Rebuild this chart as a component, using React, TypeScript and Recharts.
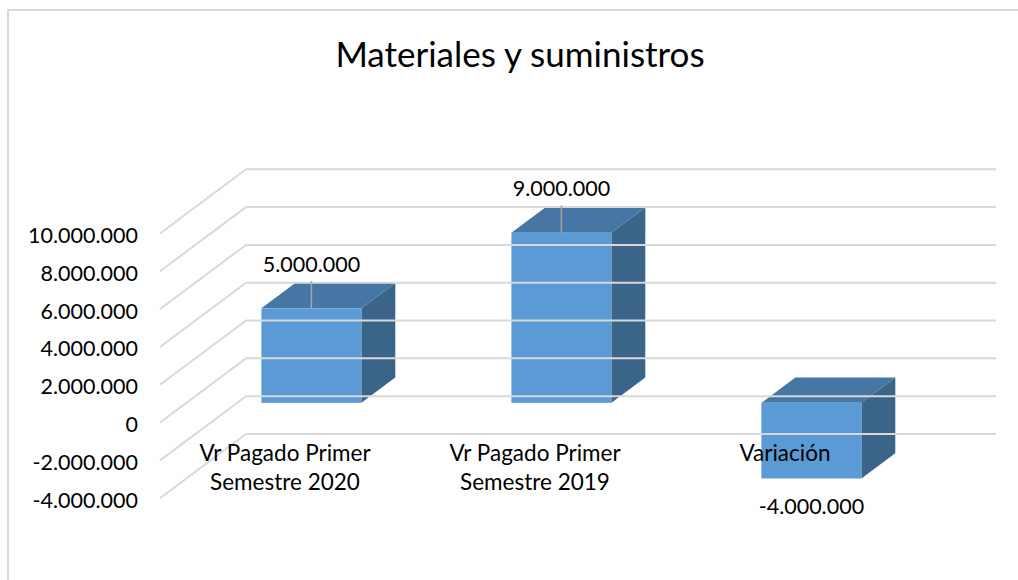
import React from 'react';
import { BarChart, Bar, XAxis, YAxis, LabelList } from 'recharts';

// ---- data ----
const title = 'Materiales y suministros';
const categories = ['Vr Pagado Primer Semestre 2020', 'Vr Pagado Primer Semestre 2019', 'Variación'];
const categoryLines: string[][] = [
  ['Vr Pagado Primer', 'Semestre 2020'],
  ['Vr Pagado Primer', 'Semestre 2019'],
  ['Variación'],
];
const values = [5000000, 9000000, -4000000];
const yTicks = [-4000000, -2000000, 0, 2000000, 4000000, 6000000, 8000000, 10000000];
const yDomain = [-4000000, 10000000];

const data = categories.map((c, i) => ({ name: c, value: values[i] }));

// ---- layout / style ----
const W = 1018;
const H = 580;
const FONT = 'Lato, "Open Sans", sans-serif';
const FRONT_LEFT = 160;
const FRONT_RIGHT = 910;
const PLOT_TOP = 233.5;
const PLOT_BOTTOM = 498.2;
const DX = 86; // depth offset of back wall
const DY = -64.2;
const D0 = 0.307; // bar front depth fraction
const D1 = 0.701; // bar back depth fraction
const GRID = '#d9d9d9';
const FRONT = '#5B9BD5';
const TOPC = '#4676A3';
const SIDE = '#3B6489';

const fmt = (v: number) =>
  (v < 0 ? '-' : '') + Math.abs(v).toString().replace(/\B(?=(\d{3})+(?!\d))/g, '.');

const YTick = (props: any) => {
  const y = props.payload.coordinate ?? props.y;
  const bx = FRONT_LEFT + DX;
  const by = y + DY;
  return (
    <g>
      <line x1={FRONT_LEFT} y1={y} x2={bx} y2={by} stroke={GRID} strokeWidth={2} />
      <line x1={bx} y1={by} x2={FRONT_RIGHT + DX} y2={by} stroke={GRID} strokeWidth={2} />
      <text x={138} y={y + 9.5} textAnchor="end" fontFamily={FONT} fontSize={21.5} fill="#000">
        {fmt(props.payload.value)}
      </text>
    </g>
  );
};

const XTick = (props: any) => {
  const idx = categories.indexOf(props.payload.value);
  const lines = categoryLines[idx] || [String(props.payload.value)];
  const x = props.payload.coordinate ?? props.x;
  return (
    <g>
      {lines.map((t, i) => (
        <text key={i} x={x} y={461 + i * 29} textAnchor="middle" fontFamily={FONT} fontSize={22.5} fill="#000">
          {t}
        </text>
      ))}
    </g>
  );
};

const Box3D = (props: any) => {
  const { x, y, width, height } = props;
  if (x == null || y == null) return null;
  const top = Math.min(y, y + height);
  const h = Math.abs(height);
  const fx = x + D0 * DX;
  const fy = top + D0 * DY;
  const bx = (D1 - D0) * DX;
  const by = (D1 - D0) * DY;
  const topPts = `${fx},${fy} ${fx + bx},${fy + by} ${fx + width + bx},${fy + by} ${fx + width},${fy}`;
  const sidePts = `${fx + width},${fy} ${fx + width + bx},${fy + by} ${fx + width + bx},${fy + by + h} ${fx + width},${fy + h}`;
  return (
    <g>
      <polygon points={sidePts} fill={SIDE} />
      <polygon points={topPts} fill={TOPC} />
      <rect x={fx} y={fy} width={width} height={h} fill={FRONT} />
    </g>
  );
};

const ValueLabel = (props: any) => {
  const vb = props.viewBox && props.viewBox.width != null ? props.viewBox : props;
  const { x, y, width, height } = vb;
  const value = Number(props.value);
  if (x == null || y == null) return null;
  const top = Math.min(y, y + height);
  const h = Math.abs(height);
  const cx = x + width / 2 + D0 * DX;
  const frontTop = top + D0 * DY;
  if (value >= 0) {
    const backTop = frontTop + (D1 - D0) * DY;
    return (
      <g>
        <line x1={cx} y1={frontTop} x2={cx} y2={backTop - 2} stroke="#a6a6a6" strokeWidth={1.5} />
        <text x={cx} y={backTop - 11.5} textAnchor="middle" fontFamily={FONT} fontSize={21.5} fill="#000">
          {fmt(value)}
        </text>
      </g>
    );
  }
  const frontBottom = frontTop + h;
  return (
    <text x={cx} y={frontBottom + 35.6} textAnchor="middle" fontFamily={FONT} fontSize={21.5} fill="#000">
      {fmt(value)}
    </text>
  );
};

export default function App() {
  return (
    <div style={{ position: 'absolute', left: 0, top: 0, width: W, height: H, background: '#fff' }}>
      <svg width={W} height={H} style={{ position: 'absolute', left: 0, top: 0 }}>
        <rect x={8} y={10} width={W + 100} height={H + 100} fill="none" stroke={GRID} strokeWidth={2} />
        <text x={520} y={67} textAnchor="middle" fontFamily={FONT} fontSize={35} fill="#000">
          {title}
        </text>
      </svg>
      <div style={{ position: 'absolute', left: 0, top: 0 }}>
        <BarChart
          width={W}
          height={H}
          data={data}
          margin={{ top: PLOT_TOP, right: W - FRONT_RIGHT, bottom: H - PLOT_BOTTOM - 50, left: 0 }}
        >
          <YAxis
            type="number"
            domain={yDomain}
            ticks={yTicks}
            interval={0}
            width={FRONT_LEFT}
            axisLine={false}
            tickLine={false}
            tick={<YTick />}
          />
          <Bar dataKey="value" barSize={100} isAnimationActive={false} shape={<Box3D />}>
            <LabelList dataKey="value" content={<ValueLabel />} />
          </Bar>
          <XAxis
            dataKey="name"
            height={50}
            axisLine={false}
            tickLine={false}
            interval={0}
            tick={<XTick />}
          />
        </BarChart>
      </div>
    </div>
  );
}
